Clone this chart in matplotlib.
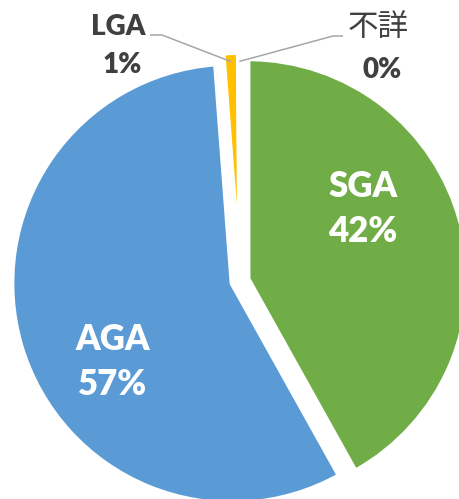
import math
import matplotlib
matplotlib.use('Agg')
import matplotlib.pyplot as plt

# share of each birth-weight group, clockwise from 12 o'clock
categories = ['SGA', 'AGA', 'LGA', '不詳']
shares = [41.9, 56.9, 1.1, 0.1]
colors = ['#70AD47', '#5B9BD5', '#FFC000', '#FFFFFF']

W, H = 459, 499          # output size in px
CX, CY, R = 240, 281, 220  # pie centre / radius in px (y from top)
TEXT = '#404040'
LINE = '#A6A6A6'


def px(x, y):
    """pixel position (from top-left) -> pie data coords (radius 1)."""
    return (x - CX) / R, (CY - y) / R


fig = plt.figure(figsize=(W / 100, H / 100), dpi=100)
ax = fig.add_axes([0, 0, 1, 1])

wedges, _ = ax.pie(shares, colors=colors, startangle=90, counterclock=False,
                   radius=1, explode=[0.038] * len(shares),
                   wedgeprops=dict(edgecolor='white', linewidth=3.4))

ax.set_xlim(-CX / R, (W - CX) / R)
ax.set_ylim((CY - H) / R, CY / R)
ax.set_aspect('equal', adjustable='box')
ax.axis('off')

total = sum(shares)
pct = [f'{round(v / total * 100)}%' for v in shares]

# big labels inside the two main slices
inside = {0: (363, 209), 1: (113, 362)}
for i, (x, y) in inside.items():
    ax.text(*px(x, y), f'{categories[i]}\n{pct[i]}', ha='center', va='center',
            color='white', fontsize=25, fontweight='heavy', family='Lato',
            linespacing=1.45)


def anchor(w):
    mid = math.radians((w.theta1 + w.theta2) / 2)
    cx, cy = w.center
    return cx + w.r * 0.96 * math.cos(mid), cy + w.r * 0.96 * math.sin(mid)


# LGA label with leader line
ax.text(*px(118, 27), categories[2], ha='center', va='center', color=TEXT,
        fontsize=20, fontweight='heavy', family='Lato')
ax.text(*px(122, 65), pct[2], ha='center', va='center', color=TEXT,
        fontsize=20, fontweight='heavy', family='Lato')
ax_, ay_ = anchor(wedges[2])
x0, y0 = px(150, 35)
x1, _ = px(162, 35)
ax.plot([x0, x1, ax_], [y0, y0, ay_], color=LINE, lw=1.1, solid_capstyle='butt')

# 不詳 label with leader line
ax.text(*px(378, 27), categories[3], ha='center', va='center', color=TEXT,
        fontsize=22, family=['Noto Sans CJK JP', 'DejaVu Sans'])
ax.text(*px(382, 70), pct[3], ha='center', va='center', color=TEXT,
        fontsize=20, fontweight='heavy', family='Lato')
bx, by = anchor(wedges[3])
x0, y0 = px(343, 36)
x1, _ = px(333, 36)
ax.plot([x0, x1, bx], [y0, y0, by], color=LINE, lw=1.1, solid_capstyle='butt')

fig.savefig('out.png', dpi=100, facecolor='white')
